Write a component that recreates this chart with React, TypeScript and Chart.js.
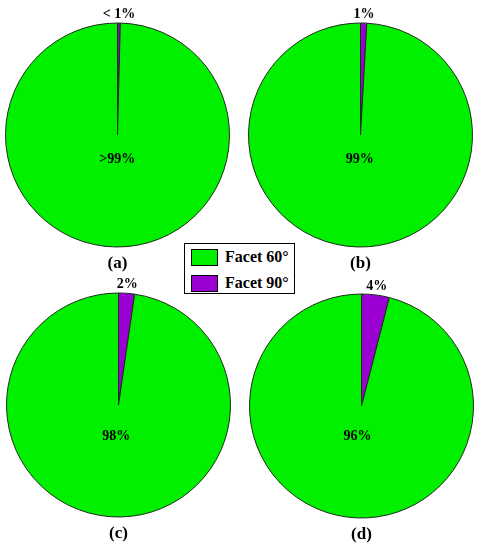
import React, { useEffect, useRef } from "react";
import { Chart, registerables } from "chart.js";

Chart.register(...registerables);

const seriesNames = ["Facet 90°", "Facet 60°"];
const colors = ["#9B00D3", "#00F000"];
const legendOrder = ["Facet 60°", "Facet 90°"];
const legendColors = ["#00F000", "#9B00D3"];

const captions = ["(a)", "(b)", "(c)", "(d)"];
const facet90 = [0.4, 0.9, 2.3, 4.0];
const facet60 = [99.6, 99.1, 97.7, 96.0];
const smallLabels = ["< 1%", "1%", "2%", "4%"];
const bigLabels = [">99%", "99%", "98%", "96%"];

const FONT = "'Liberation Serif', 'Times New Roman', serif";

const panels = [
  { left: 0, top: 0 },
  { left: 243, top: 0 },
  { left: 1, top: 270 },
  { left: 244, top: 271 },
];

const CW = 238;
const CH = 280;
const PAD = { left: 5, top: 20, right: 8, bottom: 30 };

function Pie({ idx }: { idx: number }) {
  const ref = useRef<HTMLCanvasElement | null>(null);
  useEffect(() => {
    if (!ref.current) return;
    const labelPlugin = {
      id: "pieLabels" + idx,
      afterDraw(chart: any) {
        const meta = chart.getDatasetMeta(0);
        const small = meta.data[0];
        const big = meta.data[1];
        if (!small || !big) return;
        const ctx = chart.ctx;
        const x = small.x;
        const y = small.y;
        const r = small.outerRadius;
        ctx.save();
        ctx.fillStyle = "#000";
        ctx.textAlign = "center";
        ctx.textBaseline = "middle";
        ctx.font = `bold 14px ${FONT}`;
        const ms = (small.startAngle + small.endAngle) / 2;
        ctx.fillText(smallLabels[idx], x + Math.cos(ms) * (r + 9), y + Math.sin(ms) * (r + 9));
        const mb = (big.startAngle + big.endAngle) / 2;
        const dist = idx < 2 ? 24 : 31;
        ctx.fillText(bigLabels[idx], x + Math.cos(mb) * dist, y + Math.sin(mb) * dist);
        ctx.font = `bold 17px ${FONT}`;
        ctx.fillText(captions[idx], x, y + r + 17);
        ctx.restore();
      },
    };
    const chart = new Chart(ref.current, {
      type: "pie",
      data: {
        labels: seriesNames,
        datasets: [
          {
            data: [facet90[idx], facet60[idx]],
            backgroundColor: colors,
            borderColor: "#1a2e1a",
            borderWidth: 1,
          },
        ],
      },
      options: {
        responsive: false,
        animation: false,
        devicePixelRatio: 1,
        layout: { padding: PAD },
        plugins: {
          legend: { display: false },
          tooltip: { enabled: false },
        },
      },
      plugins: [labelPlugin],
    });
    return () => chart.destroy();
  }, [idx]);
  const p = panels[idx];
  return (
    <canvas
      ref={ref}
      width={CW}
      height={CH}
      style={{ position: "absolute", left: p.left, top: p.top, width: CW, height: CH }}
    />
  );
}

export default function App() {
  return (
    <div
      style={{
        position: "fixed",
        left: 0,
        top: 0,
        width: 482,
        height: 550,
        background: "#fff",
        overflow: "hidden",
      }}
    >
      {[0, 1, 2, 3].map((i) => (
        <Pie key={i} idx={i} />
      ))}
      <div
        style={{
          position: "absolute",
          left: 184,
          top: 243,
          width: 109,
          height: 49,
          border: "1px solid #000",
          background: "#fff",
          boxSizing: "content-box",
        }}
      >
        {legendOrder.map((name, i) => (
          <div
            key={name}
            style={{
              position: "absolute",
              left: 6,
              top: 4 + i * 26,
              height: 18,
              display: "flex",
              alignItems: "center",
            }}
          >
            <div
              style={{
                width: 25,
                height: 15,
                background: legendColors[i],
                border: "1px solid #000",
              }}
            />
            <span
              style={{
                marginLeft: 7,
                fontFamily: FONT,
                fontWeight: "bold",
                fontSize: 16,
                lineHeight: "18px",
                whiteSpace: "nowrap",
              }}
            >
              {name}
            </span>
          </div>
        ))}
      </div>
    </div>
  );
}
